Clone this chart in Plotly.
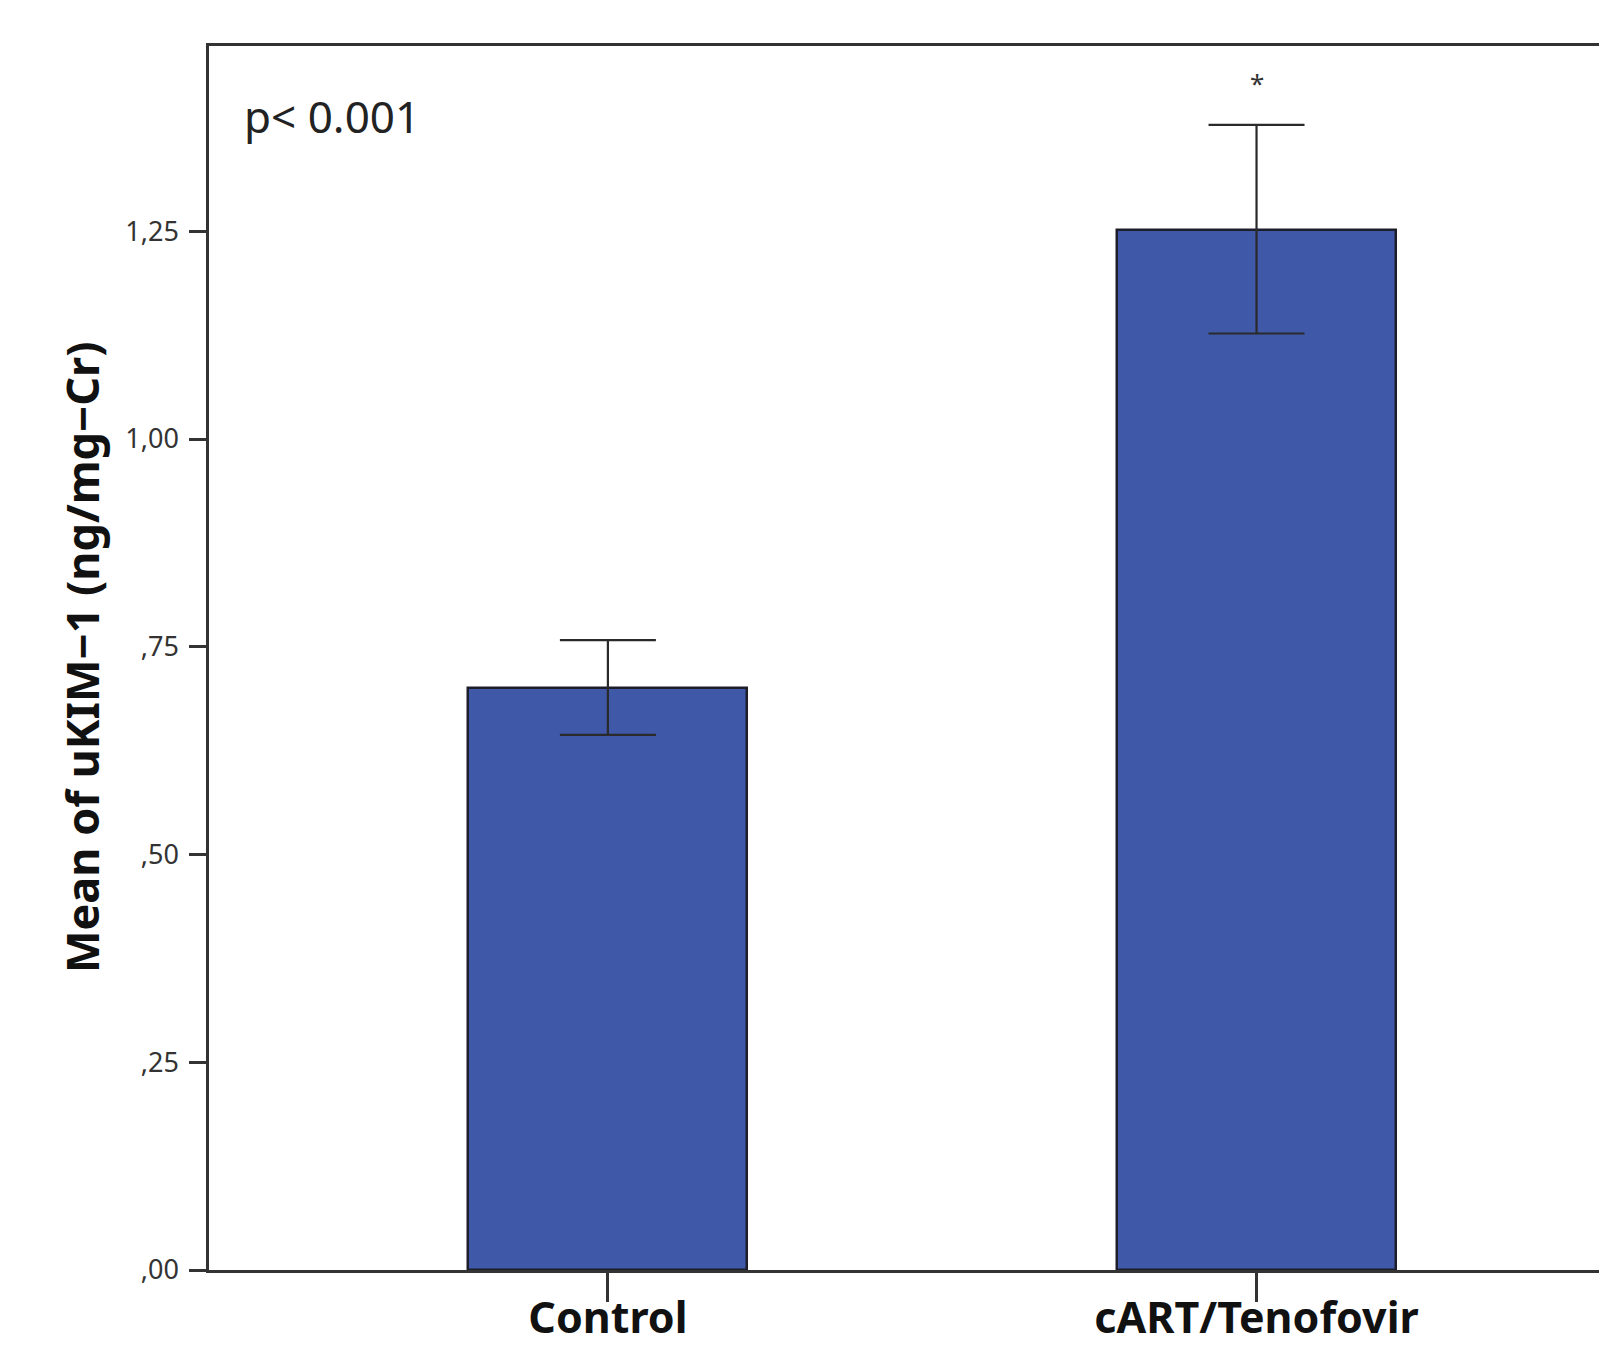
import plotly.graph_objects as go

categories = ["Control", "cART/Tenofovir"]
means = [0.70, 1.252]
err_plus = [0.058, 0.126]
err_minus = [0.056, 0.125]
ytick_vals = [0.0, 0.25, 0.5, 0.75, 1.0, 1.25]
ytick_text = [",00", ",25", ",50", ",75", "1,00", "1,25"]

W, H = 1599, 1349
L, R, T, B = 209, 0, 46, 79
PW = W - L - R
PH = H - T - B

fig = go.Figure()
fig.add_trace(go.Bar(
    x=[0, 1], y=means, width=0.43,
    marker=dict(color="#3F58A8", line=dict(color="#1e1e2a", width=2.5)),
    error_y=dict(type="data", symmetric=False, array=err_plus, arrayminus=err_minus,
                 color="#2a2a2a", thickness=2.2, width=48),
    showlegend=False,
))

fig.update_layout(
    width=W, height=H,
    margin=dict(l=L, r=R, t=T, b=B, autoexpand=False),
    plot_bgcolor="white", paper_bgcolor="white",
    font=dict(family="Noto Sans, Open Sans, DejaVu Sans", color="#222"),
    xaxis=dict(
        range=[-0.615, 1.528],
        tickvals=[0, 1], ticktext=categories,
        tickfont=dict(size=43, family="Noto Sans, Open Sans", color="#111", weight="bold"),
        ticks="outside", ticklen=29, tickwidth=2.5, tickcolor="#333",
        ticklabelstandoff=-20,
        showline=True, linecolor="#333", linewidth=2.5, mirror=True,
        showgrid=False, zeroline=False, automargin=False,
    ),
    yaxis=dict(
        range=[0, 1.473],
        tickvals=ytick_vals, ticktext=ytick_text,
        tickfont=dict(size=27, color="#333"),
        ticks="outside", ticklen=17, tickwidth=2.5, tickcolor="#333",
        ticklabelstandoff=5,
        showline=True, linecolor="#333", linewidth=2.5,
        showgrid=False, zeroline=False, automargin=False,
    ),
    bargap=0,
)

fig.add_annotation(
    text="Mean of uKIM\u22121 (ng/mg\u2212Cr)", textangle=-90,
    xref="paper", yref="paper", x=(81 - L) / PW, y=0.5,
    xanchor="center", yanchor="middle", showarrow=False,
    font=dict(size=45, color="#111", weight="bold"),
)
fig.add_annotation(
    text="p< 0.001", xref="paper", yref="paper",
    x=(242 - L) / PW, y=(1270 - 116) / PH,
    xanchor="left", yanchor="middle", showarrow=False,
    font=dict(size=44, color="#222"),
)
fig.add_annotation(
    text="*", xref="x", yref="paper", x=1,
    y=(1270 - 83) / PH, xanchor="center", yanchor="middle",
    showarrow=False, font=dict(size=26, color="#333"),
)

fig.write_html(
    "out.html",
    config={"displayModeBar": False},
    post_script=(
        "document.documentElement.style.margin='0';"
        "document.documentElement.style.overflow='hidden';"
        "document.body.style.margin='0';"
        "document.body.style.overflow='hidden';"
        "var gd=document.getElementById('{plot_id}');"
        "gd.style.position='fixed';gd.style.top='0px';gd.style.left='0px';"
    ),
)
